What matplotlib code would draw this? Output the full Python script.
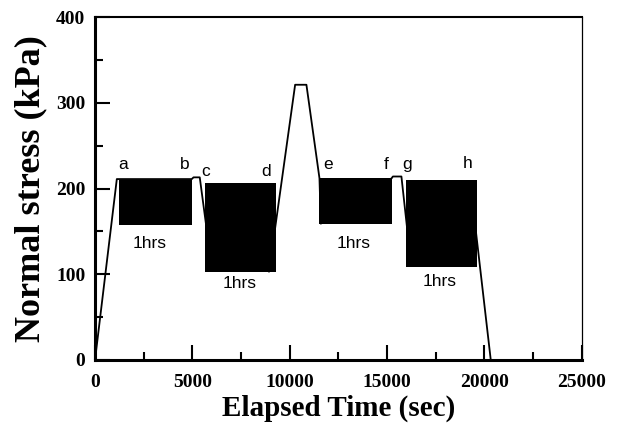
import matplotlib.pyplot as plt

# loading path: elapsed time (s) vs normal stress (kPa)
path_time = [0, 1120, 4970, 5060, 5380, 5750, 8940, 10280, 10860, 11530, 11600,
             15240, 15300, 15740, 16050, 19500, 20330]
path_stress = [0, 211, 211, 213, 213, 150, 103, 321, 321, 212, 159,
               212, 214, 214, 150, 163, 0]

# one-hour cyclic loading blocks
cycle_start = [1250, 5650, 11520, 15970]
cycle_end = [4965, 9300, 15240, 19640]
cycle_low = [158, 103, 159, 108]
cycle_high = [210, 206, 212, 210]

# stage letters
stage_names = ["a", "b", "c", "d", "e", "f", "g", "h"]
stage_time = [1455, 4590, 5680, 8770, 11990, 14980, 16040, 19140]
stage_stress = [228, 228, 220, 220, 228, 228, 228, 229]

# duration notes under each block
note_time = [2825, 7450, 13270, 17720]
note_stress = [136, 89, 136, 91]

fig = plt.figure(figsize=(6.19, 4.32), dpi=100)
ax = fig.add_axes([0.1535, 0.1667, 0.7862, 0.7939])

for t0, t1, lo, hi in zip(cycle_start, cycle_end, cycle_low, cycle_high):
    ax.fill_between([t0, t1], lo, hi, color="black", linewidth=0)

ax.plot(path_time, path_stress, color="black", linewidth=1.3)

for name, t, s in zip(stage_names, stage_time, stage_stress):
    ax.text(t, s, name, ha="center", va="center", fontsize=12.5,
            family="Liberation Sans")
for t, s in zip(note_time, note_stress):
    ax.text(t, s, "1hrs", ha="center", va="center", fontsize=12.5,
            family="Liberation Sans")

ax.set_xlim(0, 25000)
ax.set_ylim(0, 400)
ax.set_xticks(range(0, 25001, 5000))
ax.set_xticks(range(2500, 25000, 5000), minor=True)
ax.set_yticks(range(0, 401, 100))
ax.set_yticks(range(50, 400, 100), minor=True)

ax.tick_params(which="both", direction="in", top=False, right=False, width=1.5)
ax.tick_params(which="major", length=11)
ax.tick_params(which="minor", length=5.5)
ax.tick_params(axis="x", which="major", pad=10)
ax.tick_params(axis="y", which="major", pad=7)
for lab in ax.get_xticklabels() + ax.get_yticklabels():
    lab.set_family("Liberation Serif")
    lab.set_fontweight("bold")
    lab.set_fontsize(14)

ax.spines["left"].set_linewidth(2.2)
ax.spines["bottom"].set_linewidth(2.2)
ax.spines["top"].set_linewidth(1.5)
ax.spines["right"].set_linewidth(0.9)

ax.set_xlabel("Elapsed Time (sec)", family="Liberation Serif", fontweight="bold",
              fontsize=21, labelpad=3)
ax.set_ylabel("Normal stress (kPa)", family="Liberation Serif", fontweight="bold",
              fontsize=26, labelpad=6)

fig.savefig("out.png", dpi=100)
